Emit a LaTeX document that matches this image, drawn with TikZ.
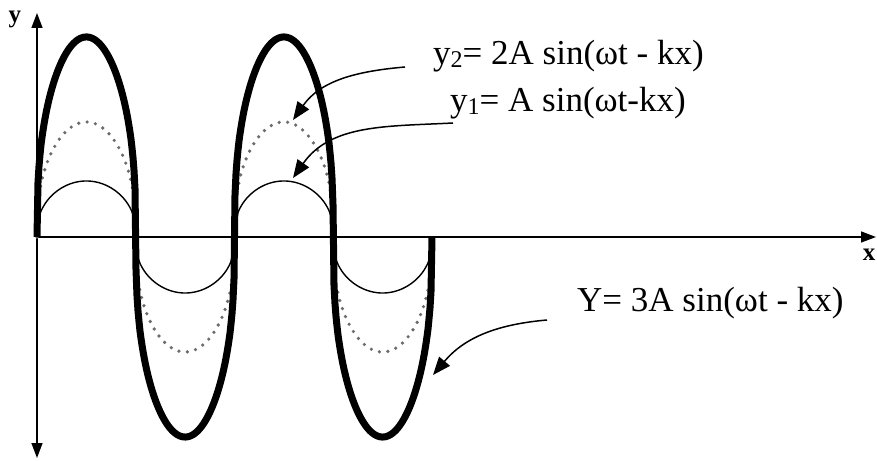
\documentclass[tikz,border=0pt]{standalone}
\usepackage{fontspec}
\setmainfont{Liberation Serif}
\usetikzlibrary{arrows.meta, positioning}

\newcommand{\lowsub}[1]{\raisebox{-3pt}{\fontsize{24}{24}\selectfont #1}}

\begin{document}
\begin{tikzpicture}[
  x=1pt, y=1pt,
  declare function={lobe(\p)=sign(sin(\p))*pow(abs(sin(\p))+0.0001,0.38);},
  axis/.style={line width=1.4pt, -{Triangle[length=15pt,width=11pt]}},
  wave/.style={line width=7pt, line join=round},
  thinwave/.style={line width=1.4pt},
  dotwave/.style={gray!85!black, line width=3.6pt, line cap=round, dash pattern=on 0pt off 8.5pt},
  callout/.style={line width=1.5pt, -{Triangle[length=18pt,width=14pt]}},
  eqn/.style={font=\fontsize{35}{40}\selectfont, inner sep=0pt, anchor=base west},
  axlbl/.style={font=\fontsize{25}{26}\selectfont\bfseries, inner sep=0pt},
]
\useasboundingbox (0,0) rectangle (877,460);

% axes
\coordinate (O)    at (37,223);
\coordinate (ytop) at (37,447);
\coordinate (ybot) at (37,2);
\coordinate (xend) at (876,223);
\draw[axis] (O) -- (ytop);
\draw[axis] (O) -- (ybot);
\draw[axis] (O) -- (xend);
\node[axlbl] (ylbl) at (15,441) {y};
\node[axlbl] (xlbl) at (869,205) {x};

% waves (half period 98.75, so 1.82278 deg per unit)
\draw[thinwave] plot[domain=37:432, samples=396] (\x, {223 + 56*lobe((\x-37)*1.82278)});
\draw[dotwave]  plot[domain=37:432, samples=396] (\x, {223 + 115*lobe((\x-37)*1.82278)});
\draw[wave]     plot[domain=37:432, samples=396] (\x, {223 + 200*lobe((\x-37)*1.82278)});

% labels
\node[eqn] (ytwo) at (433,395) {y\lowsub{2}= 2A sin(ωt - kx)};
\node[eqn] (yone) at (450,348) {y\lowsub{1}= A sin(ωt-kx)};
\node[eqn] (ytot) at (577,148) {Y= 3A sin(ωt - kx)};

\coordinate (ptwo) at (293,340);
\coordinate (pone) at (293,282);
\coordinate (ptot) at (433,85);

\draw[callout] ([xshift=-28pt,yshift=-2pt]ytwo.base west) to[out=185,in=55] (ptwo);
\draw[callout] ([xshift=3pt,yshift=-11pt]yone.base west) to[out=183,in=55] (pone);
\draw[callout] ([xshift=-30pt,yshift=-8pt]ytot.base west) to[out=185,in=50] (ptot);
\end{tikzpicture}
\end{document}
